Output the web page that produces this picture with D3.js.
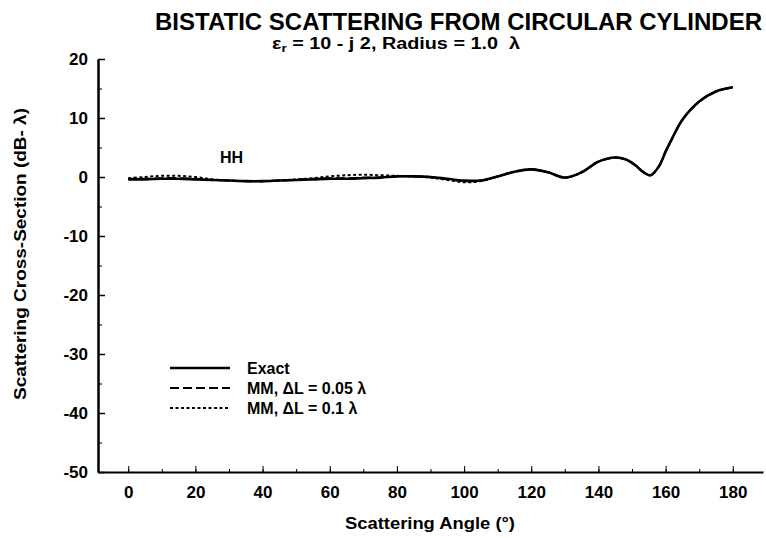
<!DOCTYPE html>
<html>
<head>
<meta charset="utf-8">
<script src="https://cdn.jsdelivr.net/npm/d3@7"></script>
<style>
  body { margin: 0; background: #fff; }
  text { font-family: "Liberation Sans", Arial, sans-serif; font-weight: bold; fill: #000; }
</style>
</head>
<body>
<svg id="chart" width="766" height="538"></svg>
<script>
// scattering angle (deg) and cross-section (dB-lambda)
var angles = [0, 5, 10, 15, 20, 25, 30, 35, 40, 45, 50, 55, 60, 65, 70, 75, 80, 85, 90, 95, 100, 105, 110, 115, 120, 125, 130, 135, 140, 145, 148, 151, 153, 155.5, 158, 160, 162, 165, 170, 175, 180];
var exact = [-0.4, -0.4, -0.3, -0.3, -0.4, -0.5, -0.6, -0.7, -0.7, -0.6, -0.5, -0.4, -0.3, -0.3, -0.2, -0.1, 0.1, 0.1, 0.0, -0.3, -0.6, -0.6, 0.1, 0.9, 1.3, 0.8, -0.1, 0.8, 2.6, 3.3, 3.0, 2.0, 1.0, 0.3, 1.8, 4.3, 6.6, 9.7, 12.8, 14.5, 15.2];
var mm005 = [-0.3, -0.3, -0.2, -0.2, -0.3, -0.5, -0.6, -0.7, -0.7, -0.6, -0.5, -0.3, -0.2, -0.2, -0.1, -0.1, 0.1, 0.1, 0.0, -0.4, -0.7, -0.6, 0.1, 0.9, 1.3, 0.8, -0.1, 0.8, 2.6, 3.3, 3.0, 2.0, 1.0, 0.3, 1.8, 4.3, 6.6, 9.7, 12.8, 14.5, 15.2];
var mm01 = [-0.2, 0.0, 0.2, 0.2, 0.0, -0.4, -0.6, -0.7, -0.7, -0.6, -0.4, -0.2, 0.1, 0.3, 0.4, 0.3, 0.2, 0.1, -0.1, -0.5, -0.9, -0.7, 0.1, 0.9, 1.3, 0.8, -0.1, 0.8, 2.6, 3.3, 3.0, 2.0, 1.0, 0.3, 1.8, 4.3, 6.6, 9.7, 12.8, 14.5, 15.2];

var xTicks = [0, 20, 40, 60, 80, 100, 120, 140, 160, 180];
var yTicks = [-50, -40, -30, -20, -10, 0, 10, 20];

var legendNames = ["Exact", "MM, \u0394L = 0.05 \u03bb", "MM, \u0394L = 0.1 \u03bb"];
var legendDash = [null, "9,4", "3,2.5"];

var svg = d3.select("#chart");

var xScale = d3.scaleLinear().domain([-9, 189]).range([98, 763]);
var yScale = d3.scaleLinear().domain([-50, 20]).range([472, 59]);
var plain = d => String(d);

// bottom axis, ticks pointing inward
var xMinor = d3.range(0, 190, 10);
svg.append("g")
  .attr("transform", "translate(0,472)")
  .call(d3.axisBottom(xScale).tickValues(xMinor).tickSize(-3).tickFormat(""))
  .call(g => g.select(".domain").remove());
svg.append("g")
  .attr("transform", "translate(0,472)")
  .call(d3.axisBottom(xScale).tickValues(xTicks).tickFormat(plain).tickSizeInner(-6).tickSizeOuter(0).tickPadding(14))
  .call(g => g.select(".domain").attr("stroke-width", 2))
  .call(g => g.selectAll("text").style("font-size", "17px"));

// left axis
svg.append("g")
  .attr("transform", "translate(98,0)")
  .call(d3.axisLeft(yScale).tickValues(d3.range(-45, 20, 10)).tickSize(-4).tickFormat(""))
  .call(g => g.select(".domain").remove());
svg.append("g")
  .attr("transform", "translate(98,0)")
  .call(d3.axisLeft(yScale).tickValues(yTicks).tickFormat(plain).tickSizeInner(-7).tickSizeOuter(0).tickPadding(10))
  .call(g => g.select(".domain").attr("stroke-width", 2.5))
  .call(g => g.selectAll("line").attr("stroke-width", 1.5))
  .call(g => g.selectAll("text").style("font-size", "17px"));

var line = d3.line()
  .x((d, i) => xScale(angles[i]))
  .y(d => yScale(d))
  .curve(d3.curveCatmullRom);

svg.append("path").datum(mm01)
  .attr("d", line).attr("fill", "none").attr("stroke", "#000")
  .attr("stroke-width", 2).attr("stroke-dasharray", legendDash[2]);
svg.append("path").datum(mm005)
  .attr("d", line).attr("fill", "none").attr("stroke", "#000")
  .attr("stroke-width", 2).attr("stroke-dasharray", legendDash[1]);
svg.append("path").datum(exact)
  .attr("d", line).attr("fill", "none").attr("stroke", "#000")
  .attr("stroke-width", 2.6);

// legend
var legend = svg.append("g").attr("transform", "translate(170,368)");
legendNames.forEach(function(name, i) {
  legend.append("line")
    .attr("x1", 0).attr("x2", 60).attr("y1", i * 20).attr("y2", i * 20)
    .attr("stroke", "#000").attr("stroke-width", i === 0 ? 2.6 : 2)
    .attr("stroke-dasharray", legendDash[i]);
  legend.append("text")
    .attr("x", 77).attr("y", i * 20 + 6)
    .style("font-size", "16px")
    .text(name);
});

svg.append("text").attr("x", 220).attr("y", 163).style("font-size", "16px").text("HH");

// titles
svg.append("text").attr("x", 155).attr("y", 30)
  .attr("textLength", 607).attr("lengthAdjust", "spacingAndGlyphs")
  .style("font-size", "23px").text("BISTATIC SCATTERING FROM CIRCULAR CYLINDER");
var sub = svg.append("text").attr("x", 272).attr("y", 49)
  .attr("textLength", 248).attr("lengthAdjust", "spacingAndGlyphs")
  .style("font-size", "16px");
sub.append("tspan").text("\u03b5");
sub.append("tspan").attr("dy", 3).style("font-size", "11px").text("r");
sub.append("tspan").attr("dy", -3).text(" = 10 - j 2, Radius = 1.0 \u00a0\u03bb");

svg.append("text").attr("x", 345).attr("y", 529)
  .attr("textLength", 170).attr("lengthAdjust", "spacingAndGlyphs")
  .style("font-size", "16px").text("Scattering Angle (\u00b0)");
svg.append("text").attr("transform", "translate(26,400) rotate(-90)")
  .attr("textLength", 292).attr("lengthAdjust", "spacingAndGlyphs")
  .style("font-size", "16px").text("Scattering Cross-Section (dB- \u03bb)");
</script>
</body>
</html>
